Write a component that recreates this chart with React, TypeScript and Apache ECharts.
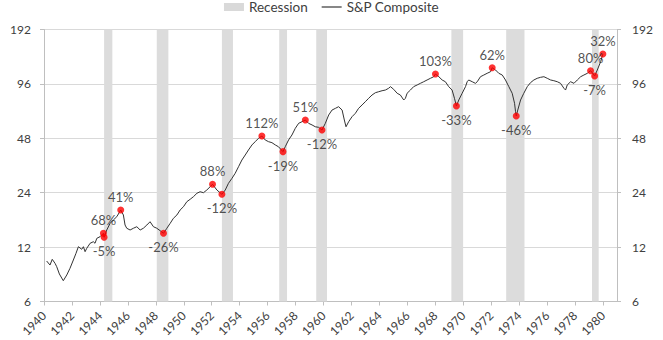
import React, { useEffect, useRef } from 'react';
import * as echarts from 'echarts';

const FONT = 'Lato, "Open Sans", sans-serif';

// S&P Composite index level, [year, value]
const spComposite: [number, number][] = [
  [1940.19, 10.05], [1940.43, 9.55], [1940.59, 10.27], [1940.79, 9.76], [1940.91, 9.35],
  [1941.10, 8.52], [1941.38, 7.82], [1941.63, 8.41], [1941.86, 9.16], [1942.10, 10.18],
  [1942.29, 11.09], [1942.46, 12.06], [1942.70, 11.67], [1942.82, 12.06], [1942.94, 11.32],
  [1943.06, 11.82], [1943.30, 12.6], [1943.53, 12.85], [1943.65, 12.6], [1943.78, 13.42],
  [1944.01, 13.7], [1944.25, 14.31], [1944.30, 13.6], [1944.49, 14.92], [1944.73, 16.25],
  [1944.96, 16.94], [1945.21, 17.68], [1945.49, 19.25], [1945.68, 18.07], [1945.80, 15.9],
  [1945.92, 15.26], [1946.16, 14.92], [1946.40, 15.26], [1946.64, 15.56], [1946.88, 14.92],
  [1947.11, 15.26], [1947.36, 15.9], [1947.59, 16.58], [1947.83, 15.56], [1948.07, 15.26],
  [1948.31, 14.79], [1948.55, 14.31], [1948.79, 15.26], [1949.03, 16.25], [1949.26, 17.32],
  [1949.51, 18.07], [1949.74, 19.25], [1949.98, 20.08], [1950.22, 21.4], [1950.46, 22.07],
  [1950.69, 22.8], [1950.94, 23.82], [1951.17, 24.3], [1951.41, 24.0], [1951.65, 24.84],
  [1951.89, 25.9], [1952.06, 26.7], [1952.37, 24.84], [1952.73, 23.52], [1952.97, 24.84],
  [1953.20, 27.06], [1953.45, 28.83], [1953.68, 30.73], [1953.92, 33.43], [1954.16, 36.4],
  [1954.40, 38.8], [1954.63, 41.36], [1954.88, 44.1], [1955.11, 45.97], [1955.35, 48.0],
  [1955.59, 49.4], [1955.83, 46.99], [1956.07, 45.97], [1956.31, 45.4], [1956.55, 44.1],
  [1956.78, 43.1], [1957.10, 40.5], [1957.26, 43.1], [1957.50, 46.99], [1957.74, 50.06],
  [1957.98, 54.5], [1958.22, 58.1], [1958.46, 59.3], [1958.70, 60.6], [1958.93, 58.1],
  [1959.18, 56.9], [1959.41, 55.6], [1959.65, 55.2], [1959.89, 53.35], [1960.13, 58.1],
  [1960.37, 64.6], [1960.61, 68.8], [1960.85, 70.3], [1961.08, 71.8], [1961.33, 68.8],
  [1961.49, 60.6], [1961.61, 55.6], [1961.80, 59.3], [1962.04, 63.2], [1962.28, 66.0],
  [1962.51, 70.3], [1962.76, 73.4], [1962.99, 76.5], [1963.23, 79.9], [1963.47, 83.3],
  [1963.71, 85.8], [1963.95, 86.9], [1964.19, 88.0], [1964.43, 88.8], [1964.66, 90.8],
  [1964.79, 92.7], [1965.02, 89.6], [1965.27, 85.2], [1965.50, 83.3], [1965.74, 78.2],
  [1965.86, 79.9], [1965.98, 85.2], [1966.22, 88.8], [1966.45, 92.7], [1966.70, 94.7],
  [1966.93, 96.7], [1967.17, 98.7], [1967.41, 100.9], [1967.65, 103.1], [1967.89, 105.2],
  [1968.01, 108.9], [1968.25, 105.2], [1968.49, 100.9], [1968.72, 98.7], [1968.96, 92.7],
  [1969.20, 88.8], [1969.37, 79.9], [1969.51, 72.4], [1969.68, 78.2], [1969.92, 85.2],
  [1970.16, 92.7], [1970.28, 98.7], [1970.39, 100.9], [1970.64, 98.7], [1970.87, 96.7],
  [1971.00, 98.7], [1971.23, 105.2], [1971.47, 107.5], [1971.71, 109.9], [1971.95, 112.1],
  [1972.07, 118.0], [1972.31, 114.6], [1972.54, 109.9], [1972.79, 107.5], [1973.02, 100.9],
  [1973.26, 92.7], [1973.50, 85.2], [1973.67, 75.0], [1973.74, 67.4], [1973.79, 63.8],
  [1973.90, 68.8], [1974.10, 78.2], [1974.33, 85.2], [1974.58, 92.7], [1974.81, 97.5],
  [1975.05, 100.9], [1975.29, 103.1], [1975.53, 104.4], [1975.77, 105.2], [1976.01, 103.1],
  [1976.25, 100.9], [1976.48, 100.0], [1976.73, 98.7], [1976.96, 96.7], [1977.20, 90.8],
  [1977.32, 88.8], [1977.44, 94.7], [1977.68, 98.7], [1977.92, 96.7], [1978.16, 100.9],
  [1978.40, 105.2], [1978.63, 107.5], [1978.88, 109.9], [1979.11, 113.6], [1979.30, 108.9],
  [1979.40, 106.2], [1979.59, 114.6], [1979.83, 127.4], [1979.99, 140.6],
];

// Turning points marked in red
const swingYears = [1944.25, 1944.30, 1945.49, 1948.55, 1952.06, 1952.73, 1955.59, 1957.10, 1958.70, 1959.89, 1968.01, 1969.51, 1972.07, 1973.79, 1979.11, 1979.40, 1979.99];
const swingValues = [14.31, 13.6, 19.25, 14.31, 26.7, 23.52, 49.4, 40.5, 60.6, 53.35, 108.9, 72.4, 118.0, 63.8, 113.6, 106.2, 140.6];
const swingLabels = ['68%', '-5%', '41%', '-26%', '88%', '-12%', '112%', '-19%', '51%', '-12%', '103%', '-33%', '62%', '-46%', '80%', '-7%', '32%'];

// Recession shading, as placed on the picture's axis
const recessionStart = [1944.30, 1948.07, 1952.73, 1956.83, 1959.48, 1969.15, 1973.07, 1979.21];
const recessionEnd = [1944.89, 1948.90, 1953.52, 1957.39, 1960.25, 1969.99, 1974.38, 1979.69];

// Axis
const yTickLabels = [6, 12, 24, 48, 96, 192];
const xMin = 1940;
const xMax = 1981;
const xLastLabel = 1980;

const BASE = yTickLabels[0];
const toLog = (v: number) => Math.log2(v / BASE);

export default function App() {
  const ref = useRef<HTMLDivElement>(null);

  useEffect(() => {
    if (!ref.current) return;
    const chart = echarts.init(ref.current, undefined, { renderer: 'svg' });

    const axisColor = '#bfbfbf';
    const labelColor = '#404040';

    const yAxisBase = (pos: 'left' | 'right', margin: number, split: boolean) => ({
      type: 'value',
      position: pos,
      min: 0,
      max: yTickLabels.length - 1,
      interval: 1,
      axisLine: { show: true, lineStyle: { color: axisColor, width: 1 } },
      axisTick: { show: true, length: 4, lineStyle: { color: axisColor } },
      axisLabel: {
        margin,
        color: labelColor,
        fontSize: 12,
        fontFamily: FONT,
        formatter: (t: number) => String(yTickLabels[Math.round(t)] ?? ''),
      },
      splitLine: { show: split, lineStyle: { color: '#d9d9d9', width: 1 } },
    });

    chart.setOption({
      animation: false,
      backgroundColor: '#ffffff',
      textStyle: { fontFamily: FONT },
      legend: {
        left: 'center',
        top: 0,
        padding: [0, 5],
        itemGap: 14,
        itemWidth: 20,
        itemHeight: 8,
        textStyle: { color: labelColor, fontSize: 13.5, fontFamily: FONT },
        data: [
          { name: 'Recession', icon: 'rect' },
          { name: 'S&P Composite', icon: 'path://M0,0h22v1.3h-22z' },
        ],
      },
      grid: {
        left: 44,
        right: 46,
        top: 29.5,
        bottom: 38.5,
        containLabel: false,
        outerBoundsMode: 'none',
      },
      xAxis: {
        type: 'value',
        min: xMin,
        max: xMax,
        interval: 2,
        axisLine: { show: true, onZero: false, lineStyle: { color: axisColor, width: 1 } },
        axisTick: { show: true, length: 4, lineStyle: { color: axisColor } },
        splitLine: { show: false },
        axisLabel: {
          rotate: 45,
          margin: 12,
          color: labelColor,
          fontSize: 12,
          fontFamily: FONT,
          showMaxLabel: false,
          formatter: (v: number) => (v <= xLastLabel ? String(v) : ''),
        },
      },
      yAxis: [yAxisBase('left', 13, true), yAxisBase('right', 15, false)],
      series: [
        {
          name: 'Recession',
          type: 'bar',
          data: [],
          z: 1,
          itemStyle: { color: '#d9d9d9' },
          markArea: {
            silent: true,
            itemStyle: { color: '#dcdcdc' },
            data: recessionStart.map((s, i) => [{ xAxis: s }, { xAxis: recessionEnd[i] }]),
          },
        },
        {
          name: 'S&P Composite',
          type: 'line',
          z: 3,
          symbol: 'none',
          showSymbol: false,
          color: '#333333',
          itemStyle: { color: '#333333' },
          lineStyle: { color: '#333333', width: 1 },
          data: spComposite.map(([yr, v]) => [yr, toLog(v)]),
        },
        {
          name: 'Turns',
          type: 'scatter',
          z: 4,
          symbolSize: 7,
          itemStyle: { color: '#ff0000' },
          label: {
            show: true,
            color: '#262626',
            fontSize: 13,
            fontFamily: FONT,
          },
          data: swingYears.map((yr, i) => {
            const neg = swingLabels[i].startsWith('-');
            return {
              value: [yr, toLog(swingValues[i])],
              label: {
                position: neg ? 'bottom' : 'top',
                distance: neg ? 4 : 3,
                formatter: swingLabels[i],
              },
            };
          }),
        },
      ],
    });

    return () => chart.dispose();
  }, []);

  return (
    <div
      ref={ref}
      style={{ position: 'fixed', left: 0, top: 0, width: 663, height: 340 }}
    />
  );
}
